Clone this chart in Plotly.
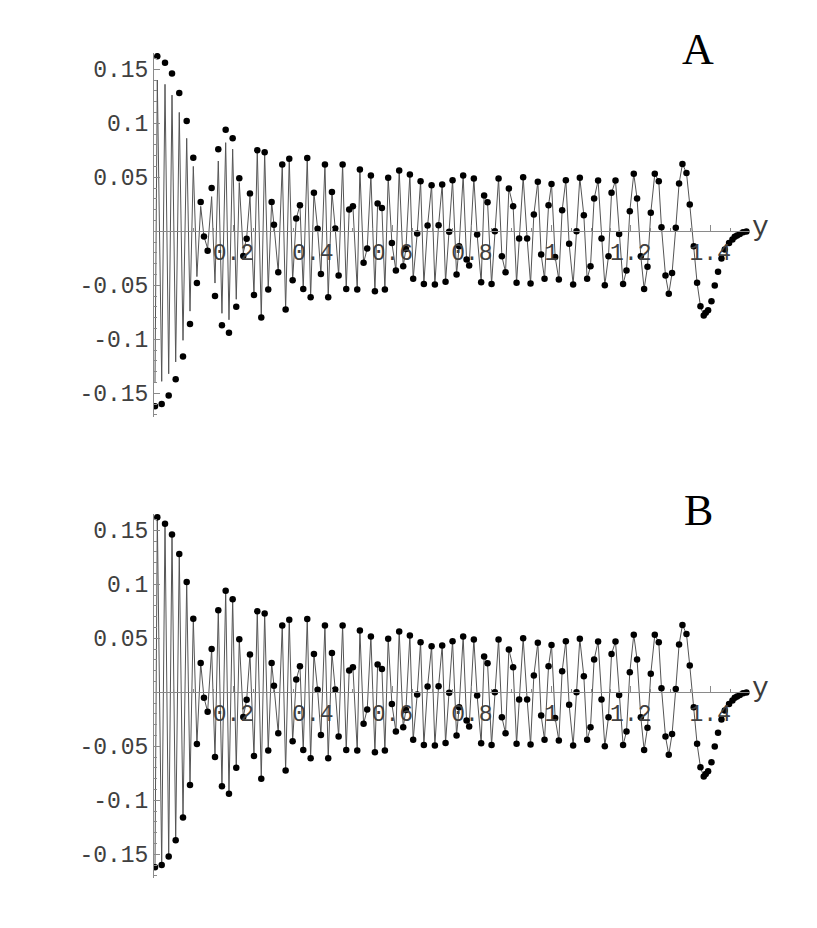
import plotly.graph_objects as go

DOT_X = [
    0.0025, 0.0083, 0.0194, 0.0277, 0.0370, 0.0453, 0.0546, 0.0636, 0.0730, 0.0823,
    0.0906, 0.0989, 0.1080, 0.1175, 0.1258, 0.1350, 0.1451, 0.1535, 0.1618, 0.1710,
    0.1804, 0.1887, 0.1980, 0.2070, 0.2146, 0.2247, 0.2332, 0.2415, 0.2516, 0.2599,
    0.2700, 0.2785, 0.2875, 0.2961, 0.3019, 0.3127, 0.3228, 0.3313, 0.3404, 0.3489,
    0.3580, 0.3673, 0.3756, 0.3857, 0.3942, 0.4025, 0.4118, 0.4201, 0.4302, 0.4385,
    0.4478, 0.4561, 0.4647, 0.4747, 0.4838, 0.4913, 0.5006, 0.5115, 0.5182, 0.5275,
    0.5366, 0.5459, 0.5560, 0.5628, 0.5736, 0.5811, 0.5894, 0.5987, 0.6088, 0.6171,
    0.6272, 0.6340, 0.6440, 0.6523, 0.6624, 0.6709, 0.6792, 0.6886, 0.6986, 0.7069,
    0.7162, 0.7253, 0.7338, 0.7429, 0.7514, 0.7615, 0.7680, 0.7781, 0.7866, 0.7932,
    0.8050, 0.8133, 0.8234, 0.8309, 0.8395, 0.8496, 0.8579, 0.8672, 0.8755, 0.8848,
    0.8931, 0.9039, 0.9125, 0.9190, 0.9291, 0.9391, 0.9477, 0.9560, 0.9660, 0.9744,
    0.9829, 0.9930, 1.0005, 1.0096, 1.0189, 1.0272, 1.0365, 1.0448, 1.0549, 1.0634,
    1.0717, 1.0818, 1.0901, 1.0986, 1.1077, 1.1177, 1.1263, 1.1346, 1.1439, 1.1515,
    1.1615, 1.1706, 1.1806, 1.1892, 1.1975, 1.2075, 1.2158, 1.2252, 1.2335, 1.2420,
    1.2503, 1.2604, 1.2704, 1.2772, 1.2873, 1.2956, 1.3039, 1.3132, 1.3215, 1.3300,
    1.3401, 1.3484, 1.3585, 1.3668, 1.3753, 1.3836, 1.3887, 1.3945, 1.4030, 1.4113,
    1.4196, 1.4282, 1.4365, 1.4473, 1.4558, 1.4616, 1.4675, 1.4743, 1.4826, 1.4910,
]
DOT_Y = [
    -0.162, 0.162, -0.160, 0.156, -0.152, 0.146, -0.137, 0.128, -0.116, 0.102,
    -0.086, 0.068, -0.048, 0.027, -0.005, -0.018, 0.040, -0.060, 0.076, -0.087,
    0.094, -0.094, 0.086, -0.070, 0.049, -0.023, -0.007, 0.035, -0.059, 0.075,
    -0.080, 0.073, -0.054, 0.027, 0.006, -0.038, 0.0617, -0.0725, 0.067, -0.0454,
    0.0117, 0.0241, -0.0534, 0.0679, -0.0611, 0.0355, 0.0022, -0.0395, 0.0617, -0.0611,
    0.0364, 0.0025, -0.041, 0.0617, -0.0534, 0.020, 0.0231, -0.054, 0.0571, -0.0293,
    -0.016, 0.0515, -0.0556, 0.0256, 0.0216, -0.054, 0.0494, -0.0108, -0.0364, 0.0562,
    -0.0324, -0.0164, 0.0525, -0.0441, -0.0022, 0.0463, -0.0488, 0.0052, 0.0426, -0.0494,
    0.0056, 0.0432, -0.0469, -0.0006, 0.0472, -0.0401, -0.0139, 0.0515, -0.0262, -0.0318,
    0.0488, -0.0031, -0.0472, 0.033, 0.0269, -0.0488, 0.0, 0.0488, -0.0231, -0.038,
    0.0395, 0.0231, -0.0478, -0.0068, 0.050, -0.0068, -0.0485, 0.0154, 0.0457, -0.0216,
    -0.0441, 0.0241, 0.0438, -0.0238, -0.0448, 0.0194, 0.0472, -0.0117, -0.0494, 0.0,
    0.0494, 0.0148, -0.0441, -0.0324, 0.0302, 0.0469, -0.0068, -0.050, -0.0231, 0.0355,
    0.0469, -0.0025, -0.0488, -0.0364, 0.0185, 0.0531, 0.0302, -0.0231, -0.0534, -0.033,
    0.017, 0.0531, 0.0463, 0.0037, -0.041, -0.058, -0.0386, 0.0031, 0.0441, 0.0623,
    0.054, 0.0247, -0.0139, -0.0478, -0.0694, -0.0781, -0.0756, -0.0731, -0.0648, -0.0503,
    -0.0376, -0.0253, -0.017, -0.0108, -0.0077, -0.0052, -0.004, -0.0025, -0.0009, -0.0003,
]
# curve in panel A stays below the dots over the first samples
LINE_A_HEAD = [
    -0.140, 0.140, -0.139, 0.136, -0.132, 0.126, -0.121, 0.110, -0.101, 0.086,
    -0.074, 0.060, -0.042, 0.023, -0.005, -0.016, 0.032, -0.048, 0.065, -0.076,
    0.082, -0.082, 0.076, -0.063, 0.045, -0.020, -0.006, 0.032,
]
LINE_STOP = 157  # the curve ends at the trough near y = 1.39

Y_TICKS = [-0.15, -0.1, -0.05, 0.05, 0.1, 0.15]
Y_TICK_TEXT = ["-0.15", "-0.1", "-0.05", "0.05", "0.1", "0.15"]
X_TICKS = [0.2, 0.4, 0.6, 0.8, 1.0, 1.2, 1.4]
X_TICK_TEXT = ["0.2", "0.4", "0.6", "0.8", "1", "1.2", "1.4"]
PANELS = ["A", "B"]

Y_RANGE = [-0.172, 0.165]
X_RANGE = [0, 1.5]
DOMAINS = [[0.5588, 1.0], [0.0, 0.4412]]

AXIS_GRAY = "#8a8a8a"
TICK_FONT = dict(family="Liberation Mono", size=23, color="#404040")

line_y = {
    "A": LINE_A_HEAD + DOT_Y[len(LINE_A_HEAD):LINE_STOP],
    "B": DOT_Y[:LINE_STOP],
}

fig = go.Figure()
for i, name in enumerate(PANELS):
    sfx = "" if i == 0 else str(i + 1)
    fig.add_trace(go.Scatter(
        x=DOT_X[:LINE_STOP], y=line_y[name], mode="lines",
        line=dict(color="#555555", width=1),
        xaxis="x" + sfx, yaxis="y" + sfx, showlegend=False,
    ))
    fig.add_trace(go.Scatter(
        x=DOT_X, y=DOT_Y, mode="markers",
        marker=dict(color="black", size=6.5),
        xaxis="x" + sfx, yaxis="y" + sfx, showlegend=False,
    ))

layout = {}
for i, name in enumerate(PANELS):
    sfx = "" if i == 0 else str(i + 1)
    d0, d1 = DOMAINS[i]
    zero_pos = d0 + (0 - Y_RANGE[0]) / (Y_RANGE[1] - Y_RANGE[0]) * (d1 - d0)
    layout["xaxis" + sfx] = dict(
        domain=[0, 1], range=X_RANGE, anchor="free", position=zero_pos,
        automargin=False,
        showgrid=False, zeroline=False, showline=True,
        linecolor=AXIS_GRAY, linewidth=1,
        ticks="inside", ticklen=6, tickcolor=AXIS_GRAY,
        tickvals=X_TICKS, ticktext=X_TICK_TEXT, tickfont=TICK_FONT,
        minor=dict(tick0=0, dtick=0.05, ticks="inside", ticklen=3, tickcolor=AXIS_GRAY),
    )
    layout["yaxis" + sfx] = dict(
        domain=DOMAINS[i], range=Y_RANGE, anchor="x" + sfx,
        automargin=False,
        showgrid=False, zeroline=False, showline=True,
        linecolor=AXIS_GRAY, linewidth=1,
        ticks="inside", ticklen=6, tickcolor=AXIS_GRAY,
        tickvals=Y_TICKS, ticktext=Y_TICK_TEXT, tickfont=TICK_FONT,
        minor=dict(tick0=0, dtick=0.01, ticks="inside", ticklen=3, tickcolor=AXIS_GRAY),
    )

annotations = []
for i, name in enumerate(PANELS):
    d0, d1 = DOMAINS[i]
    zero_pos = d0 + (0 - Y_RANGE[0]) / (Y_RANGE[1] - Y_RANGE[0]) * (d1 - d0)
    annotations.append(dict(
        text=name, xref="paper", yref="paper", x=0.913, y=d1 + 0.004,
        xanchor="center", yanchor="middle", showarrow=False,
        font=dict(family="Liberation Serif", size=44, color="black"),
    ))
    annotations.append(dict(
        text="y", xref="paper", yref="paper", x=1.018, y=zero_pos + 0.004,
        xanchor="center", yanchor="middle", showarrow=False,
        font=dict(family="Liberation Mono", size=28, color="#3c3c3c"),
    ))

# the page body adds an 8 px margin, so the figure is trimmed by that much
fig.update_layout(
    **layout,
    annotations=annotations,
    width=801, height=912,
    margin=dict(l=146, r=59, t=45, b=42, autoexpand=False),
    paper_bgcolor="white", plot_bgcolor="white",
    showlegend=False,
)

fig.write_html("out.html")
